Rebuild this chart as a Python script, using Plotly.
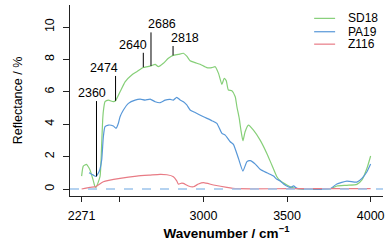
import plotly.graph_objects as go

# ---- data ----
sd18_wn = [2271, 2281, 2300, 2308, 2320, 2340, 2351, 2357, 2381, 2391, 2397, 2401, 2411, 2431, 2461, 2474,
           2501, 2531, 2571, 2601, 2631, 2640, 2651, 2686, 2711, 2730, 2760, 2790, 2818, 2850, 2880, 2900,
           2920, 2950, 2980, 3020, 3050, 3070, 3090, 3110, 3124, 3136, 3149, 3170, 3190, 3200, 3214, 3224,
           3236, 3249, 3269, 3299, 3339, 3379, 3409, 3439, 3459, 3499, 3529, 3559, 3757, 3798, 3858, 3918,
           3948, 3978, 4000]
sd18_r = [0.80, 1.42, 1.52, 1.42, 1.20, 0.55, 0.15, 0.10, 0.76, 2.80, 4.26, 4.80, 5.39, 5.49, 5.39, 5.45,
          6.00, 6.62, 7.04, 7.24, 7.45, 7.50, 7.52, 7.60, 7.70, 7.55, 7.76, 8.07, 8.25, 8.31, 8.38, 8.20,
          7.92, 7.80, 7.70, 7.49, 7.49, 7.55, 7.14, 6.46, 6.83, 6.69, 6.11, 6.07, 5.70, 5.08, 4.36, 3.64,
          2.98, 3.54, 3.95, 3.64, 3.02, 2.20, 1.48, 0.76, 0.51, 0.25, 0.10, 0.02, 0.00, 0.19, 0.23, 0.29,
          0.56, 1.28, 2.04]

pa19_wn = [2315, 2321, 2341, 2357, 2377, 2391, 2401, 2411, 2431, 2461, 2477, 2491, 2501, 2521, 2551, 2591,
           2621, 2651, 2681, 2711, 2741, 2771, 2801, 2820, 2840, 2860, 2880, 2900, 2920, 2950, 3000, 3050,
           3080, 3110, 3130, 3160, 3179, 3209, 3236, 3260, 3280, 3310, 3339, 3379, 3419, 3439, 3459, 3479,
           3519, 3539, 3559, 3757, 3798, 3858, 3918, 3948, 3978, 4000]
pa19_r = [1.00, 0.97, 0.86, 0.78, 1.11, 1.79, 3.23, 3.85, 3.95, 3.89, 3.75, 4.06, 4.46, 4.88, 5.29, 5.49,
          5.55, 5.49, 5.55, 5.39, 5.33, 5.49, 5.53, 5.49, 5.66, 5.50, 5.39, 5.19, 4.88, 4.72, 4.46, 4.22,
          4.05, 3.44, 3.33, 2.92, 2.76, 1.90, 1.11, 1.69, 1.75, 1.54, 1.22, 1.00, 0.80, 0.60, 0.50, 0.31,
          0.10, 0.19, 0.04, 0.02, 0.31, 0.49, 0.43, 0.66, 1.07, 1.54]

z116_wn = [2271, 2321, 2357, 2401, 2501, 2601, 2681, 2740, 2781, 2820, 2840, 2850, 2870, 2880, 2910, 2940,
           2970, 3000, 3060, 3140, 3200, 3500, 4000]
z116_r = [0.00, 0.10, 0.15, 0.45, 0.66, 0.80, 0.86, 0.90, 0.88, 0.76, 0.50, 0.30, 0.37, 0.35, 0.19, 0.14,
          0.31, 0.39, 0.25, 0.10, 0.02, 0.02, 0.02]

series_names = ["SD18", "PA19", "Z116"]

peak_wn = [2360, 2474, 2640, 2686, 2818]
peak_labels = ["2360", "2474", "2640", "2686", "2818"]
peak_base = [0.78, 5.45, 7.52, 7.60, 8.25]
peak_top = [5.43, 6.98, 8.41, 9.67, 8.83]
label_xshift = [-4, -12, -10, 11, 12]

x_tickvals = [2271, 2500, 3000, 3500, 4000]
x_ticktext = ["2271", "", "3000", "3500", "4000"]
y_tickvals = [0, 2, 4, 6, 8, 10]

GREEN = "#86cf78"
BLUE = "#5797d8"
RED = "#e87b85"
colors = [GREEN, BLUE, RED]

fig = go.Figure()
for name, wn, r, c in zip(series_names, [sd18_wn, pa19_wn, z116_wn], [sd18_r, pa19_r, z116_r], colors):
    fig.add_trace(go.Scatter(x=wn, y=r, mode="lines", name=name, showlegend=False,
                             line=dict(color=c, width=1.2, shape="spline", smoothing=0.5)))

# zero baseline
fig.add_hline(y=0, line=dict(color="#9cc3ec", width=1.5, dash="dash"))

for wn, lab, yb, yt, xs in zip(peak_wn, peak_labels, peak_base, peak_top, label_xshift):
    fig.add_shape(type="line", x0=wn, x1=wn, y0=yb, y1=yt, xref="x", yref="y",
                  line=dict(color="black", width=1))
    fig.add_annotation(x=wn, y=yt, text=lab, showarrow=False, xanchor="center", yanchor="middle",
                       xshift=xs, yshift=8, font=dict(size=12.5, color="black"))

# legend (drawn in paper coordinates, R-style compact key)
leg_x0, leg_x1, leg_tx = 0.78, 0.847, 0.882
leg_y = [0.930, 0.860, 0.795]
for name, c, ly in zip(series_names, colors, leg_y):
    fig.add_shape(type="line", xref="paper", yref="paper", x0=leg_x0, x1=leg_x1, y0=ly, y1=ly,
                  line=dict(color=c, width=1.2))
    fig.add_annotation(xref="paper", yref="paper", x=leg_tx, y=ly, text=name, showarrow=False,
                       xanchor="left", yanchor="middle", font=dict(size=12, color="black"))

fig.update_layout(
    width=390, height=243,
    margin=dict(l=70, r=7, t=5, b=47),
    paper_bgcolor="white", plot_bgcolor="white",
    font=dict(family="Liberation Sans, Arial, sans-serif", size=12.5, color="black"),
    showlegend=False,
    xaxis=dict(range=[2201.5, 4074], tickvals=x_tickvals, ticktext=x_ticktext,
               showgrid=False, zeroline=False, showline=True, linecolor="#222", linewidth=1,
               ticks="outside", ticklen=5, tickcolor="#222", tickwidth=1, ticklabelstandoff=3,
               title=dict(text="<b>Wavenumber / cm<sup>−1</sup></b>", font=dict(size=13.5), standoff=3)),
    yaxis=dict(range=[-0.43, 11.36], tickvals=y_tickvals, tickangle=-90,
               showgrid=False, zeroline=False, showline=True, linecolor="#222", linewidth=1,
               ticks="outside", ticklen=6, tickcolor="#222", tickwidth=1, ticklabelstandoff=4,
               title=dict(text="Reflectance / %", font=dict(size=12.5), standoff=17)),
)

fig.write_html("out.html", config={"displayModeBar": False},
               post_script="document.body.style.margin='0';")
